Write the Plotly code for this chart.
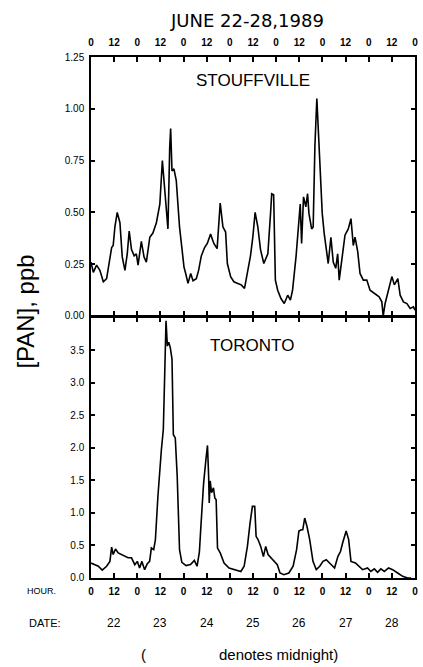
import plotly.graph_objects as go

# ---- data ----
stouff_hours = [0, 1.2, 2.9, 4.6, 6.4, 8.1, 10.7, 11.5, 12.4, 13.6, 15, 16.2, 17.6, 18.8, 19.8, 21, 22.4, 23.5,
                24.4, 26.1, 27.5, 28.7, 30.5, 32.1, 33.9, 35.7, 37.0, 38.2, 39.9, 40.8, 41.3, 42, 43, 44.2,
                45.9, 47.1, 48.2, 49.1, 50.3, 51.7, 52.9, 54.6, 55.8, 57.2, 58.9, 60.3, 62, 63.7, 65.4, 67,
                68.4, 69.8, 70.7, 72.4, 74.1, 76.1, 77.9, 79.6, 81, 82.7, 83.9, 85.1, 86.5, 87.9, 89.6, 91.7,
                93.1, 93.7, 94.7, 95.6, 96.8, 98.5, 100.2, 102, 103.4, 104.5, 106.3, 107.5, 108.5, 109.2,
                110.2, 111.4, 112.3, 113, 114.4, 115.2, 116.1, 117.1, 117.8, 118.7, 119.9, 120.9, 121.8, 123,
                124.4, 125.6, 126.9, 127.9, 128.7, 130, 131.7, 133.4, 134.8, 136, 136.9, 138.3, 139.5, 141.2,
                143, 144.7, 147.3, 149.4, 150.8, 151.5, 152.5, 154.2, 156, 157.3, 159.1, 160.3, 162, 163.8,
                165.5, 167.2, 168]
stouff_pan = [0.26, 0.21, 0.245, 0.22, 0.165, 0.18, 0.33, 0.34, 0.43, 0.50, 0.45, 0.285, 0.22, 0.30, 0.41, 0.32, 0.29, 0.30,
              0.245, 0.36, 0.285, 0.26, 0.38, 0.40, 0.45, 0.54, 0.75, 0.62, 0.42, 0.81, 0.905, 0.70, 0.71, 0.655,
              0.43, 0.33, 0.237, 0.205, 0.157, 0.205, 0.17, 0.18, 0.22, 0.29, 0.33, 0.35, 0.395, 0.35, 0.325, 0.545,
              0.43, 0.405, 0.253, 0.19, 0.165, 0.157, 0.15, 0.133, 0.205, 0.29, 0.38, 0.50, 0.43, 0.32, 0.253, 0.30,
              0.495, 0.59, 0.585, 0.173, 0.124, 0.084, 0.06, 0.10, 0.076, 0.124, 0.285, 0.414, 0.54, 0.35,
              0.575, 0.527, 0.59, 0.495, 0.42, 0.43, 0.82, 1.05, 0.90, 0.72, 0.495, 0.40, 0.33, 0.253,
              0.38, 0.26, 0.23, 0.30, 0.173, 0.27, 0.39, 0.42, 0.47, 0.34, 0.38, 0.31, 0.205, 0.173,
              0.173, 0.124, 0.108, 0.092, 0.068, 0.0, 0.06, 0.124, 0.19, 0.15, 0.18, 0.10, 0.068, 0.06,
              0.036, 0.044, 0.028]

toronto_hours = [0, 2, 3.8, 5.8, 8.1, 9.8, 10.7, 11.5, 12.7, 14.1, 15.8, 17.5, 19.2, 21, 22.7, 24, 25.2, 26.4,
                 27.8, 29.2, 30.4, 31.3, 32.5, 33.4, 34.7, 36.5, 37.5, 38.2, 38.9, 39.6, 40.3, 41.1, 42, 42.7,
                 43.7, 44.7, 45.9, 47.1, 49.3, 51.6, 53.6, 55, 56.2, 57, 58.4, 59.6, 60.4, 61, 61.3, 61.8,
                 62.5, 63.5, 64.2, 64.9, 65.6, 67, 69, 71.6, 74.2, 77.7, 79.4, 81.1, 82.5, 83.7, 84.9, 85.6,
                 86.6, 88, 89.4, 90.6, 91.8, 93.5, 94.9, 96.6, 98, 100, 102.6, 104.8, 106.6, 107.8, 109,
                 109.8, 110.8, 112, 113.4, 115.1, 116.8, 118.6, 120.3, 122, 123.7, 126.3, 128, 129.4, 130.5,
                 132.3, 133.6, 134.8, 137.1, 139.1, 140.8, 143.4, 145.1, 146.9, 148.6, 150.3, 152.1, 154.3,
                 156.4, 159, 161.6, 164.2, 166]
toronto_pan = [0.23, 0.205, 0.18, 0.12, 0.18, 0.255, 0.475, 0.36, 0.445, 0.385, 0.36, 0.33, 0.31, 0.31, 0.205, 0.255, 0.155, 0.255,
               0.128, 0.22, 0.255, 0.46, 0.435, 0.59, 1.255, 1.97, 2.28, 3.10, 3.95, 3.56, 3.62, 3.54, 3.36, 2.20,
               2.15, 1.56, 0.435, 0.24, 0.19, 0.205, 0.27, 0.18, 0.40, 0.80, 1.46, 1.82, 2.035, 1.56, 1.15, 1.49,
               1.31, 1.385, 1.23, 1.20, 0.46, 0.385, 0.23, 0.154, 0.128, 0.10, 0.18, 0.485, 0.85, 1.10, 1.10, 0.64,
               0.59, 0.485, 0.33, 0.485, 0.36, 0.31, 0.255, 0.205, 0.077, 0.05, 0.077, 0.18, 0.435, 0.72, 0.74,
               0.74, 0.92, 0.79, 0.59, 0.255, 0.128, 0.18, 0.255, 0.28, 0.23, 0.154, 0.33, 0.41, 0.54,
               0.72, 0.59, 0.255, 0.23, 0.18, 0.128, 0.154, 0.10, 0.14, 0.087, 0.14, 0.10, 0.154,
               0.128, 0.077, 0.025, 0.0, 0.0]

hour_ticks = list(range(0, 169, 12))
hour_labels = ["0" if h % 24 == 0 else "12" for h in hour_ticks]
dates = ["22", "23", "24", "25", "26", "27", "28"]
top_yticks = [0, 0.25, 0.5, 0.75, 1.0, 1.25]
bot_yticks = [0, 0.5, 1.0, 1.5, 2.0, 2.5, 3.0, 3.5]

FONT = "Liberation Sans, Arial, sans-serif"
WIDE = "DejaVu Sans, sans-serif"

fig = go.Figure()
fig.add_trace(go.Scatter(x=stouff_hours, y=stouff_pan, mode="lines",
                         line=dict(color="black", width=1.6), xaxis="x2", yaxis="y2", showlegend=False))
fig.add_trace(go.Scatter(x=toronto_hours, y=toronto_pan, mode="lines",
                         line=dict(color="black", width=1.6), xaxis="x", yaxis="y", showlegend=False))

plot_h = 667 - 57 - 89
split = 0.503
lw = 1.5
common_x = dict(range=[0, 168], tickvals=hour_ticks, ticktext=hour_labels, ticks="inside", ticklen=5,
                tickwidth=1.5, tickcolor="black", showline=True, linecolor="black", linewidth=lw,
                mirror="ticks", showgrid=False, zeroline=False,
                tickfont=dict(family=FONT, size=10, color="black", weight="bold"))
common_y = dict(ticks="inside", ticklen=4, tickwidth=1.5, tickcolor="black", showline=True,
                linecolor="black", linewidth=lw, mirror="ticks", showgrid=False, zeroline=False,
                tickfont=dict(family=FONT, size=10, color="black"), ticklabelstandoff=3)

fig.update_layout(
    width=423, height=667,
    margin=dict(l=91, r=5, t=57, b=89),
    paper_bgcolor="white", plot_bgcolor="white",
    xaxis=dict(domain=[0, 1], anchor="y", ticklabelstandoff=3, **common_x),
    xaxis2=dict(domain=[0, 1], anchor="y2", side="top", matches="x", ticklabelstandoff=5, **common_x),
    yaxis=dict(domain=[0, split - lw / plot_h], range=[0, 4.0], tickvals=bot_yticks,
               ticktext=[f"{v:.1f}" for v in bot_yticks], **common_y),
    yaxis2=dict(domain=[split, 1], range=[0, 1.25], tickvals=top_yticks,
                ticktext=[f"{v:.2f}" for v in top_yticks], **common_y),
    showlegend=False,
)

ann = []
def A(text, x, y, size, xref="paper", yref="paper", family=FONT, **kw):
    ann.append(dict(text=text, x=x, y=y, xref=xref, yref=yref, showarrow=False,
                    xanchor="center", yanchor="middle",
                    font=dict(family=family, size=size, color="black"), **kw))

def py(pix):
    return (578 - pix) / plot_h

def px(pix):
    return (pix - 91) / 327

A("JUNE 22-28,1989", px(248), py(20), 18, family=WIDE)
A("STOUFFVILLE", px(255), py(80), 17)
A("TORONTO", px(253), py(345), 17)
A("[PAN], ppb", px(24), py(312), 24, textangle=-90)
A("HOUR.", px(41), py(591), 9)
A("DATE:", px(45), py(623), 11)
for i, d in enumerate(dates):
    A(d, 12 + 24 * i, py(623), 12, xref="x")
A("(", px(144), py(655), 15)
A("denotes midnight)", px(280), py(655), 15)
fig.update_layout(annotations=ann)

fig.write_html("out.html")
